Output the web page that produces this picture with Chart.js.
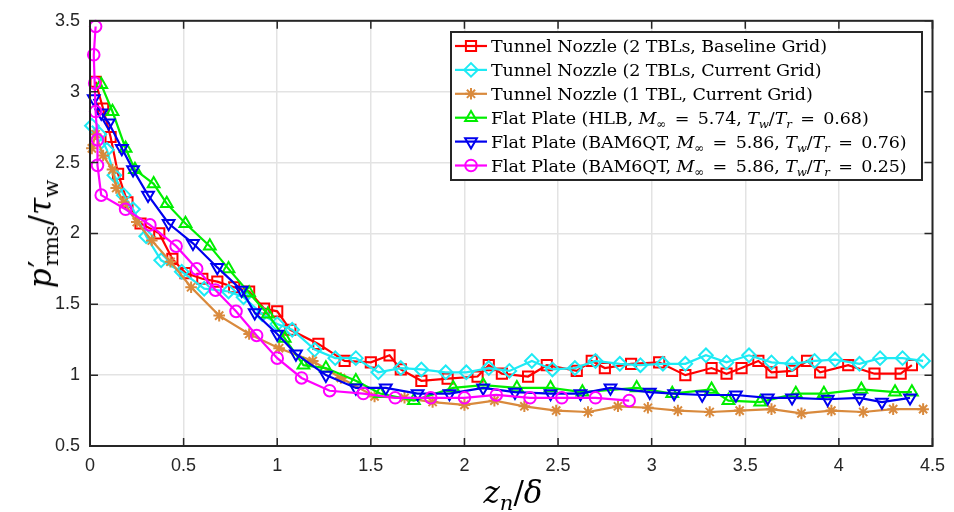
<!DOCTYPE html>
<html>
<head>
<meta charset="utf-8">
<script src="https://cdn.jsdelivr.net/npm/chart.js@4.4.0/dist/chart.umd.min.js"></script>
<style>
    body { margin: 0; background: #fff; }
    #wrap { position: relative; width: 954px; height: 512px; }
    #c { position: absolute; left: 0; top: 0; }
    .txt { position: absolute; font-family: 'DejaVu Serif', serif; color: #000; white-space: nowrap; }
    .leg { left: 491px; font-size: 17.5px; line-height: 24px; height: 24px; letter-spacing: -0.1px; }
    .ttl { font-size: 31px; }
    .eq { margin: 0 3px; }
    i { font-style: italic; }
    sub { font-size: 68%; vertical-align: -0.35em; line-height: 0; }
</style>
</head>
<body>
<div id="wrap">
    <canvas id="c" width="954" height="512"></canvas>
    <div class="txt leg" style="top:34px">Tunnel Nozzle (2 TBLs, Baseline Grid)</div>
    <div class="txt leg" style="top:58px">Tunnel Nozzle (2 TBLs, Current Grid)</div>
    <div class="txt leg" style="top:82px">Tunnel Nozzle (1 TBL, Current Grid)</div>
    <div class="txt leg" style="top:106px">Flat Plate (HLB, <i>M</i><sub>∞</sub> <span class="eq">=</span> 5.74, <i>T<sub>w</sub></i>/<i>T<sub>r</sub></i> <span class="eq">=</span> 0.68)</div>
    <div class="txt leg" style="top:130px">Flat Plate (BAM6QT, <i>M</i><sub>∞</sub> <span class="eq">=</span> 5.86, <i>T<sub>w</sub></i>/<i>T<sub>r</sub></i> <span class="eq">=</span> 0.76)</div>
    <div class="txt leg" style="top:154px">Flat Plate (BAM6QT, <i>M</i><sub>∞</sub> <span class="eq">=</span> 5.86, <i>T<sub>w</sub></i>/<i>T<sub>r</sub></i> <span class="eq">=</span> 0.25)</div>
    <div class="txt ttl" style="left:513px;top:474px;transform:translateX(-50%)"><i>z<sub>n</sub></i>/<i>δ</i></div>
    <div class="txt ttl" style="left:40px;top:234px;transform:translate(-50%,-50%) rotate(-90deg)"><i>p</i><span style="margin-left:1px">′</span><sub style="margin-left:-6px">rms</sub>/<i>τ</i><sub>w</sub></div>
</div>
<script>
// x ticks / y ticks
const xTicks = [0, 0.5, 1, 1.5, 2, 2.5, 3, 3.5, 4, 4.5];
const yTicks = [0.5, 1, 1.5, 2, 2.5, 3, 3.5];

// Tunnel Nozzle (2 TBLs, Baseline Grid)
const redX = [0.03, 0.07, 0.11, 0.15, 0.20, 0.27, 0.37, 0.44, 0.51, 0.60, 0.68, 0.77, 0.85, 0.93, 1.00, 1.07, 1.22, 1.36, 1.50, 1.60, 1.66, 1.77, 1.91, 2.07, 2.13, 2.20, 2.34, 2.44, 2.60, 2.68, 2.75, 2.89, 3.04, 3.18, 3.32, 3.40, 3.48, 3.57, 3.64, 3.75, 3.83, 3.90, 4.05, 4.19, 4.33, 4.39];
const redY = [3.07, 2.88, 2.68, 2.42, 2.22, 2.07, 2.00, 1.82, 1.72, 1.68, 1.66, 1.62, 1.59, 1.47, 1.45, 1.32, 1.22, 1.10, 1.09, 1.14, 1.04, 0.96, 0.975, 0.99, 1.07, 1.01, 0.99, 1.07, 1.03, 1.10, 1.05, 1.08, 1.09, 1.00, 1.05, 1.01, 1.05, 1.10, 1.02, 1.03, 1.10, 1.02, 1.07, 1.01, 1.01, 1.07];

// Tunnel Nozzle (2 TBLs, Current Grid)
const cyanX = [0.01, 0.05, 0.09, 0.13, 0.18, 0.23, 0.30, 0.38, 0.49, 0.61, 0.74, 0.82, 0.92, 1.00, 1.08, 1.20, 1.31, 1.42, 1.54, 1.66, 1.77, 1.90, 2.01, 2.13, 2.24, 2.36, 2.47, 2.59, 2.70, 2.83, 2.94, 3.06, 3.18, 3.29, 3.40, 3.52, 3.64, 3.75, 3.87, 3.98, 4.11, 4.22, 4.34, 4.45];
const cyanY = [2.76, 2.70, 2.59, 2.41, 2.27, 2.17, 1.98, 1.81, 1.73, 1.61, 1.59, 1.55, 1.43, 1.36, 1.32, 1.18, 1.12, 1.12, 1.02, 1.05, 1.04, 1.02, 1.02, 1.05, 1.03, 1.10, 1.04, 1.05, 1.10, 1.08, 1.07, 1.08, 1.08, 1.14, 1.09, 1.14, 1.09, 1.08, 1.10, 1.11, 1.08, 1.12, 1.12, 1.10];

// Tunnel Nozzle (1 TBL, Current Grid)
const orangeX = [0.01, 0.03, 0.07, 0.12, 0.14, 0.18, 0.25, 0.33, 0.43, 0.54, 0.69, 0.85, 1.01, 1.19, 1.34, 1.52, 1.68, 1.83, 2.00, 2.16, 2.32, 2.49, 2.66, 2.82, 2.98, 3.14, 3.31, 3.47, 3.64, 3.80, 3.96, 4.13, 4.29, 4.45];
const orangeY = [2.60, 2.70, 2.55, 2.45, 2.32, 2.22, 2.08, 1.95, 1.80, 1.62, 1.42, 1.29, 1.19, 1.10, 0.98, 0.85, 0.84, 0.81, 0.79, 0.82, 0.78, 0.75, 0.74, 0.78, 0.77, 0.75, 0.74, 0.75, 0.76, 0.73, 0.75, 0.74, 0.76, 0.76];

// Flat Plate (HLB)
const greenX = [0.06, 0.12, 0.19, 0.24, 0.34, 0.41, 0.51, 0.64, 0.74, 0.85, 0.95, 1.04, 1.14, 1.26, 1.42, 1.55, 1.73, 1.94, 2.10, 2.28, 2.46, 2.63, 2.92, 3.11, 3.32, 3.41, 3.58, 3.77, 3.92, 4.12, 4.30, 4.39];
const greenY = [3.05, 2.86, 2.60, 2.45, 2.35, 2.21, 2.07, 1.91, 1.75, 1.58, 1.43, 1.26, 1.07, 1.05, 0.96, 0.87, 0.82, 0.91, 0.93, 0.91, 0.91, 0.88, 0.91, 0.87, 0.90, 0.82, 0.81, 0.87, 0.87, 0.90, 0.88, 0.88];

// Flat Plate (BAM6QT, Tw/Tr = 0.76)
const blueX = [0.02, 0.06, 0.10, 0.17, 0.23, 0.31, 0.42, 0.55, 0.68, 0.81, 0.88, 1.00, 1.10, 1.26, 1.42, 1.58, 1.75, 1.92, 2.10, 2.27, 2.46, 2.62, 2.78, 2.99, 3.12, 3.27, 3.45, 3.62, 3.75, 3.94, 4.11, 4.23, 4.38];
const blueY = [2.95, 2.85, 2.78, 2.60, 2.45, 2.27, 2.07, 1.93, 1.76, 1.60, 1.44, 1.29, 1.15, 1.00, 0.91, 0.91, 0.87, 0.87, 0.91, 0.88, 0.87, 0.87, 0.91, 0.88, 0.87, 0.86, 0.86, 0.84, 0.84, 0.83, 0.84, 0.81, 0.84];

// Flat Plate (BAM6QT, Tw/Tr = 0.25)
const magentaX = [0.03, 0.02, 0.025, 0.03, 0.04, 0.04, 0.06, 0.19, 0.32, 0.46, 0.57, 0.67, 0.78, 0.89, 1.00, 1.13, 1.28, 1.46, 1.63, 1.82, 2.00, 2.17, 2.35, 2.52, 2.70, 2.88];
const magentaY = [3.46, 3.26, 3.06, 2.86, 2.66, 2.48, 2.27, 2.17, 2.06, 1.91, 1.75, 1.60, 1.45, 1.28, 1.12, 0.98, 0.89, 0.87, 0.84, 0.84, 0.84, 0.86, 0.84, 0.84, 0.84, 0.82];

function series(label, xs, ys, color, style, radius, rot, order) {
    return {
        label: label,
        data: xs.map((v, i) => ({ x: v, y: ys[i] })),
        borderColor: color,
        backgroundColor: 'rgba(0,0,0,0)',
        borderWidth: 2.2,
        pointStyle: style,
        pointRadius: radius,
        pointRotation: rot,
        pointBorderWidth: 2,
        pointBorderColor: color,
        pointBackgroundColor: 'rgba(0,0,0,0)',
        showLine: true,
        tension: 0,
        clip: 10,
        order: order,
    };
}

const datasets = [
    series('Tunnel Nozzle (2 TBLs, Baseline Grid)', redX, redY, '#ff0000', 'rect', 7.2, 0, 6),
    series('Tunnel Nozzle (2 TBLs, Current Grid)', cyanX, cyanY, '#1eeaf4', 'rectRot', 6.8, 0, 5),
    series('Tunnel Nozzle (1 TBL, Current Grid)', orangeX, orangeY, '#d98a3d', 'star', 5.8, 0, 4),
    series('Flat Plate (HLB, M = 5.74, Tw/Tr = 0.68)', greenX, greenY, '#00ee00', 'triangle', 6.8, 0, 3),
    series('Flat Plate (BAM6QT, M = 5.86, Tw/Tr = 0.76)', blueX, blueY, '#0000ee', 'triangle', 6.8, 180, 2),
    series('Flat Plate (BAM6QT, M = 5.86, Tw/Tr = 0.25)', magentaX, magentaY, '#ff00ff', 'circle', 5.8, 0, 1),
];

// frame, inside ticks and the legend box
const framePlugin = {
    id: 'frame',
    afterDraw(chart) {
        const { ctx, chartArea: a, scales: { x, y } } = chart;
        ctx.save();
        ctx.strokeStyle = '#262626';
        ctx.lineWidth = 1.5;
        ctx.beginPath();
        xTicks.forEach(v => {
            const px = x.getPixelForValue(v);
            ctx.moveTo(px, a.bottom); ctx.lineTo(px, a.bottom - 8);
            ctx.moveTo(px, a.top); ctx.lineTo(px, a.top + 8);
        });
        yTicks.forEach(v => {
            const py = y.getPixelForValue(v);
            ctx.moveTo(a.left, py); ctx.lineTo(a.left + 8, py);
            ctx.moveTo(a.right, py); ctx.lineTo(a.right - 8, py);
        });
        ctx.stroke();
        ctx.lineWidth = 2;
        ctx.strokeRect(a.left, a.top, a.right - a.left, a.bottom - a.top);

        ctx.fillStyle = '#fff';
        ctx.fillRect(451, 32, 471, 148);
        ctx.strokeStyle = '#262626';
        ctx.strokeRect(451, 32, 471, 148);
        chart.data.datasets.forEach((ds, i) => {
            const cy = 46 + 23.9 * i;
            ctx.strokeStyle = ds.borderColor;
            ctx.lineWidth = 2.2;
            ctx.beginPath();
            ctx.moveTo(455, cy); ctx.lineTo(487, cy);
            ctx.stroke();
            ctx.fillStyle = 'rgba(0,0,0,0)';
            ctx.lineWidth = 2;
            Chart.helpers.drawPoint(ctx, {
                pointStyle: ds.pointStyle,
                radius: ds.pointRadius,
                rotation: ds.pointRotation,
                borderWidth: 2,
            }, 471, cy);
        });
        ctx.restore();
    },
};

const tickFont = { family: "'Liberation Sans', Arial, sans-serif", size: 18 };

new Chart(document.getElementById('c'), {
    type: 'scatter',
    data: { datasets: datasets },
    options: {
        responsive: false,
        animation: false,
        events: [],
        layout: { padding: { top: 17, right: 17, left: 0, bottom: 0 } },
        plugins: {
            legend: { display: false },
            tooltip: { enabled: false },
        },
        scales: {
            x: {
                type: 'linear',
                min: 0,
                max: 4.5,
                afterFit: s => { s.height = 66; },
                afterBuildTicks: s => { s.ticks = xTicks.map(v => ({ value: v })); },
                ticks: {
                    padding: 9,
                    color: '#262626',
                    font: tickFont,
                    callback: v => String(v),
                },
                grid: { color: '#e3e3e3', lineWidth: 1.5, drawTicks: false },
                border: { display: false },
            },
            y: {
                type: 'linear',
                min: 0.5,
                max: 3.5,
                afterFit: s => { s.width = 90; },
                afterBuildTicks: s => { s.ticks = yTicks.map(v => ({ value: v })); },
                ticks: {
                    padding: 10,
                    color: '#262626',
                    font: tickFont,
                    callback: v => String(v),
                },
                grid: { color: '#e3e3e3', lineWidth: 1.5, drawTicks: false },
                border: { display: false },
            },
        },
    },
    plugins: [framePlugin],
});
</script>
</body>
</html>
